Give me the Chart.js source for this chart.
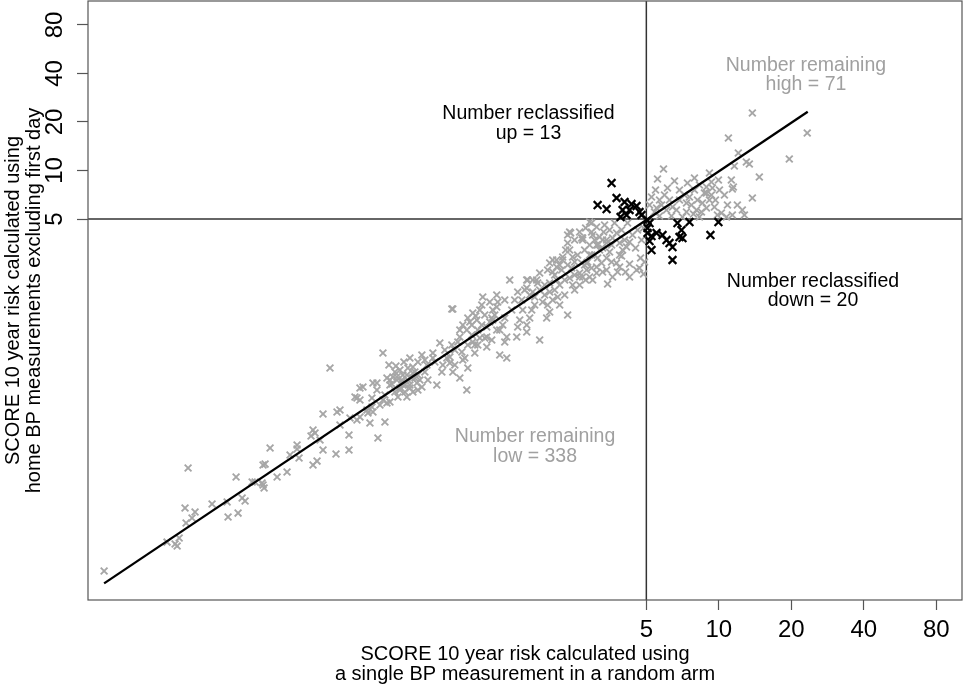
<!DOCTYPE html>
<html>
<head>
<meta charset="utf-8">
<script src="https://cdn.jsdelivr.net/npm/chart.js@4.4.1/dist/chart.umd.min.js"></script>
<style>
  html, body { margin: 0; padding: 0; background: #fff; }
  #wrap { width: 964px; height: 684px; }
</style>
</head>
<body>
<div id="wrap"><canvas id="c" width="964" height="684"></canvas></div>
<script>
// SCORE 10-year risk (%): single random-arm BP reading (x) vs home BP excluding first day (y)

// Both below the 5% threshold (grey)
const lowX = [
  0.0280, 0.0625, 0.0989, 0.0607, 0.0668, 0.0649, 0.0613, 0.0786, 0.0908, 0.0916, 0.1008, 0.1048, 0.1078, 0.1153, 0.1268, 0.1293, 0.0511, 0.0552, 0.0574, 0.0563, 0.1280,
  0.1369, 0.1305, 0.1186, 0.1280, 0.1464, 0.1610, 0.1772, 0.1772, 0.1806, 0.2064, 0.2104, 0.2025, 0.2064, 0.2145, 0.2271, 0.2271, 0.2596, 0.2571, 0.2671, 0.2911, 0.2911, 0.2939, 0.3142, 0.3233, 0.3142, 0.3327, 0.3490, 0.3557, 0.3661, 0.3626, 0.3839, 0.3803, 0.4105, 0.4185, 0.4306, 0.4306, 0.4604, 0.4875, 0.5113, 0.5364, 0.5065, 0.5364, 0.5573, 0.4737, 0.2428, 0.4969, 0.5212, 0.5467, 0.5626, 0.4828, 0.4517,
  0.7783, 1.0168, 1.1187, 1.196, 0.4028, 0.4266, 0.5212, 0.5845, 0.6492, 0.6940, 0.6744, 0.8982, 0.8401, 0.7858, 0.9068, 0.7142, 0.7636, 0.3233, 0.3083, 0.3661, 0.3803, 0.4028, 0.4306, 0.4185, 0.4604, 0.4875, 0.5065, 0.5467, 0.5734, 0.5845, 0.4969, 0.4648, 0.3626, 0.3457, 0.2671, 0.6131, 0.6492, 0.7636, 0.8009, 0.8401, 0.8982, 0.9420, 0.9882, 0.9511, 0.9694, 1.087, 1.087, 1.2308, 1.316, 1.291, 1.151, 0.5364, 0.5626, 0.4737, 0.4431, 0.4517, 0.4828, 0.5113, 0.5313, 0.5626, 0.6014, 0.6189, 0.4737, 0.4389, 0.4105, 0.5212, 0.4922, 0.4560, 0.7279, 0.7783, 0.8242, 0.8563, 0.9068, 0.9420, 0.9976, 1.036, 0.7420, 0.8646,
  0.7858, 0.9068, 0.9511, 0.8646, 0.8401, 1.0464, 1.036, 1.196, 1.2075, 1.291, 1.151, 1.1403, 1.087, 1.2666, 1.316, 1.4477, 1.4615, 1.490, 1.593, 1.639, 1.354, 1.4615, 1.608, 1.593, 1.519, 1.752, 1.803, 1.719, 1.855, 1.984, 1.984, 2.121, 1.928, 1.984, 1.803, 1.593, 2.142, 2.356, 2.518, 2.642, 2.693, 2.401, 2.121, 2.2465, 2.401, 2.356, 2.719, 2.992, 3.108, 2.907, 3.260, 3.419, 3.108, 2.825, 3.419, 1.984, 2.042,
  1.639, 1.719, 1.803, 1.891, 1.769, 1.671, 1.946, 2.042, 2.081, 2.183, 2.290, 2.225, 2.356, 2.518, 2.592, 2.771, 2.907, 3.049, 3.198, 3.291, 2.852, 2.963, 3.138, 2.518, 2.642, 2.798, 2.290, 2.183, 0.9242, 0.9787, 1.0665, 1.1187, 1.1734, 1.2308, 1.0168, 0.9694, 1.1403,
  2.963, 3.108, 2.401, 2.356, 2.693, 3.198, 3.419, 3.761, 3.871, 3.518, 3.291, 2.963, 2.825, 3.108, 3.419, 2.042, 2.121, 2.2465, 1.946, 1.593, 1.687, 2.642, 2.907, 2.471, 3.761, 3.871, 3.984, 4.139, 2.907, 2.424, 2.719, 4.868, 3.871, 4.259, 3.620, 2.992, 2.719, 2.471,
  3.354, 3.518, 3.690, 3.946, 4.178, 4.383, 4.597, 4.775, 4.868, 4.510, 4.730, 4.060, 3.586, 3.323, 3.138, 2.963, 2.798, 2.642, 2.518, 2.312, 3.586, 3.946, 4.259, 4.554, 3.797, 3.291, 4.914, 4.685, 4.099, 3.452,
  0.6014, 0.6617, 0.7074, 0.8009, 0.8812, 0.9976, 1.0665, 1.196, 1.291, 1.380, 1.420, 1.533, 1.563, 1.687, 1.891, 2.081, 2.183, 2.447, 2.771, 3.049, 3.620, 4.259, 0.3233, 0.3914, 0.2207, 0.1657
];
const lowY = [
  0.0327, 0.1424, 0.1252, 0.0804, 0.0759, 0.0697, 0.0649, 0.0851, 0.0876, 0.0707, 0.0748, 0.0928, 0.0889, 0.1166, 0.1150, 0.1070, 0.0494, 0.0481, 0.0524, 0.0467, 0.1486,
  0.1895, 0.1507, 0.1166, 0.1117, 0.1252, 0.1345, 0.1978, 0.1869, 0.1643, 0.2451, 0.2348, 0.2250, 0.1486, 0.1573, 0.1842, 0.3081, 0.3170, 0.1740, 0.2633, 0.2282, 0.1842, 0.2909, 0.2828, 0.2951, 0.3872, 0.4531, 0.3125, 0.2709, 0.3170, 0.3872, 0.2186, 0.4798, 0.2748, 0.3605, 0.4662, 0.5008, 0.5228, 0.5379, 0.5008, 0.4219, 0.3928, 0.5535, 0.4798, 0.4341, 0.5945, 0.4662, 0.4467, 0.5153, 0.4341, 0.4867, 0.4219,
  1.381, 1.3618, 1.527, 1.421, 0.7366, 0.6205, 0.6858, 0.7158, 0.7366, 0.8497, 0.4662, 0.4341, 0.5153, 0.5615, 0.5945, 0.6205, 0.6385, 0.4467, 0.3928, 0.4798, 0.4341, 0.3763, 0.3657, 0.5153, 0.5008, 0.4662, 0.5379, 0.5615, 0.5008, 0.4531, 0.4219, 0.3928, 0.3405, 0.3262, 0.3262, 0.6205, 0.6858, 0.6957, 0.7689, 0.9259, 1.0233, 1.099, 1.1805, 0.8620, 0.7366, 0.9259, 0.8026, 0.7158, 0.6858, 0.8620, 1.1805, 0.6031, 0.6477, 0.5778, 0.5228, 0.5615, 0.5008, 0.5945, 0.5153, 0.5379, 0.5615, 0.5008, 0.4467, 0.4730, 0.4041, 0.4662, 0.6477, 0.6117, 0.7689, 0.8258, 0.8620, 0.7472, 0.8258, 0.9527, 1.0233, 1.099, 0.6858, 0.6665,
  1.381, 1.2146, 1.3046, 1.099, 1.0233, 1.6395, 1.4626, 1.687, 1.527, 1.571, 1.3618, 1.2146, 1.0681, 1.099, 0.9259, 0.9259, 1.0681, 1.1805, 0.9944, 1.2146, 2.091, 1.761, 2.091, 1.865, 1.571, 2.091, 2.311, 1.640, 1.527, 2.003, 1.761, 2.091, 1.2146, 1.3234, 0.887, 1.099, 1.640, 1.2678, 1.812, 2.311, 2.666, 2.151, 2.783, 2.904, 3.21, 3.977, 3.810, 3.977, 3.448, 2.988, 2.666, 2.412, 2.311, 2.412, 3.547, 2.666, 2.344,
  1.687, 1.463, 1.812, 1.687, 2.003, 1.3618, 1.463, 1.571, 1.812, 1.947, 2.091, 2.412, 2.591, 2.705, 2.988, 3.21, 3.448, 2.988, 3.21, 3.703, 2.705, 2.482, 2.863, 2.246, 1.947, 2.091, 1.687, 1.463, 1.147, 1.2499, 1.2678, 1.147, 1.2678, 1.0233, 0.9127, 0.8258, 0.887,
  4.721, 4.459, 4.152, 3.547, 3.810, 3.865, 3.703, 4.093, 3.547, 3.119, 3.303, 2.988, 2.666, 2.518, 2.863, 2.783, 2.518, 2.783, 2.412, 2.091, 2.091, 2.182, 2.182, 2.904, 2.666, 2.988, 3.21, 3.350, 4.789, 4.093, 3.703, 2.278, 2.518, 2.182, 2.182, 2.091, 2.182, 1.947,
  4.588, 4.272, 4.721, 4.272, 4.721, 3.977, 4.272, 3.703, 4.395, 3.303, 2.863, 3.703, 3.448, 4.152, 3.448, 4.152, 4.395, 4.152, 3.703, 3.21, 2.705, 2.946, 2.628, 2.412, 2.344, 2.344, 2.705, 2.482, 2.344, 1.975,
  0.6665, 0.6477, 0.5615, 0.6205, 0.6858, 0.8258, 0.9127, 1.0233, 1.2146, 1.3618, 1.571, 1.3618, 1.812, 1.761, 1.947, 2.246, 2.591, 2.482, 2.591, 3.703, 3.810, 3.599, 0.3763, 0.3503, 0.2125, 0.1715
];

// Both at or above 5% (grey)
const highX = [
  13.78, 23.29, 10.96, 19.62, 12.05, 13.01, 13.39, 11.60, 14.73, 5.892, 5.564, 6.544, 9.141, 9.962, 11.27, 11.49, 11.38, 10.06, 8.884, 9.317,
  8.309, 7.921, 8.715, 9.141, 8.551, 9.588, 8.884, 7.552, 7.339, 6.864, 6.864, 6.421, 6.239, 5.671, 5.254, 5.155, 5.512, 6.063, 6.671, 7.339,
  8.075, 13.78, 12.52, 11.38, 10.76, 10.25, 8.884, 5.407, 5.781, 5.948, 6.121, 7.200, 7.698, 8.152, 8.469, 9.317, 9.680, 10.55, 10.86, 11.94,
  12.77, 7.409, 7.921, 9.407, 9.867, 5.671, 6.359, 7.064, 8.309, 7.847, 5.459
];
const highY = [
  22.74, 17.09, 15.91, 11.78, 12.84, 11.29, 10.97, 10.66, 9.111, 10.22, 8.855, 8.605, 9.647, 8.729, 8.729, 7.898, 7.676, 7.567, 7.898, 8.483,
  8.127, 7.567, 7.249, 6.559, 6.284, 5.935, 5.850, 6.847, 6.284, 7.567, 6.559, 5.935, 6.559, 6.559, 6.847, 6.106, 5.850, 5.686, 5.686, 5.526,
  5.686, 6.749, 5.686, 5.294, 5.145, 5.447, 7.249, 5.526, 6.106, 7.045, 7.785, 7.045, 6.106, 6.559, 5.526, 7.045, 6.559, 7.045, 6.106, 6.106,
  5.294, 8.362, 8.981, 7.785, 5.294, 5.219, 5.219, 5.145, 5.145, 5.370, 7.567
];

// Reclassified upwards by home BP (black)
const upX = [3.586, 3.138, 3.419, 3.761, 4.060, 4.341, 4.554, 3.984, 4.259, 3.908, 4.139, 4.685, 4.775];
const upY = [8.362, 6.106, 5.767, 6.749, 6.374, 6.194, 6.020, 5.686, 5.686, 5.145, 5.294, 5.526, 5.294];

// Reclassified downwards by home BP (black)
const downX = [5.057, 5.155, 5.057, 5.057, 5.254, 5.155, 5.254, 5.512, 5.836, 6.063, 6.239, 6.421, 6.421, 6.734, 6.997, 6.864, 7.064, 7.552, 9.229, 9.962];
const downY = [4.928, 4.721, 4.395, 4.093, 3.921, 3.650, 3.21, 4.093, 3.977, 3.703, 3.547, 3.350, 2.783, 4.721, 4.272, 3.865, 3.810, 4.789, 3.977, 4.789];

// Fitted line end points
const fitX = [0.0280, 23.40];
const fitY = [0.0274, 23.17];

// Axes
const tickValues = [5, 10, 20, 40, 80];
const cutoff = 5;
const xRange = [0.024, 102.3];
const yRange = [0.0216, 112.7];

const FONT = '"Liberation Sans", Arial, Helvetica, sans-serif';
const GREY = '#a6a6a6';

const pts = (xs, ys) => xs.map((x, i) => ({ x: x, y: ys[i] }));

// Quadrant captions placed in data space
const notes = [
  { x: 1.62, y: 19.6, color: '#000', lines: ['Number reclassified', 'up = ' + upX.length] },
  { x: 23.0, y: 39.2, color: '#a0a0a0', lines: ['Number remaining', 'high = ' + highX.length] },
  { x: 24.6, y: 1.787, color: '#000', lines: ['Number reclassified', 'down = ' + downX.length] },
  { x: 1.725, y: 0.1936, color: '#a0a0a0', lines: ['Number remaining', 'low = ' + lowX.length] }
];

const notesPlugin = {
  id: 'notes',
  afterDatasetsDraw(chart) {
    const { ctx, scales } = chart;
    ctx.save();
    ctx.font = '19.5px ' + FONT;
    ctx.textAlign = 'center';
    ctx.textBaseline = 'middle';
    const gap = 19.5;
    notes.forEach(n => {
      const px = scales.x.getPixelForValue(n.x);
      const py = scales.y.getPixelForValue(n.y);
      ctx.fillStyle = n.color;
      n.lines.forEach((t, i) => {
        ctx.fillText(t, px, py + (i - (n.lines.length - 1) / 2) * gap);
      });
    });
    ctx.restore();
  }
};

const framePlugin = {
  id: 'frame',
  afterDraw(chart) {
    const { ctx, chartArea: a } = chart;
    ctx.save();
    ctx.strokeStyle = '#555';
    ctx.lineWidth = 1.2;
    ctx.strokeRect(a.left, a.top, a.right - a.left, a.bottom - a.top);
    ctx.restore();
  }
};

const fixTicks = s => { s.ticks = tickValues.map(v => ({ value: v })); };

new Chart(document.getElementById('c'), {
  type: 'scatter',
  data: {
    datasets: [
      {
        label: 'reclassified up',
        data: pts(upX, upY),
        pointStyle: 'crossRot', pointRadius: 5.5, pointBorderWidth: 2.2,
        borderColor: '#000', backgroundColor: '#000', order: 0
      },
      {
        label: 'reclassified down',
        data: pts(downX, downY),
        pointStyle: 'crossRot', pointRadius: 5.5, pointBorderWidth: 2.2,
        borderColor: '#000', backgroundColor: '#000', order: 0
      },
      {
        label: 'fit',
        data: pts(fitX, fitY),
        showLine: true, pointRadius: 0, borderColor: '#000', borderWidth: 2.3, order: 1
      },
      {
        label: 'remaining high',
        data: pts(highX, highY),
        pointStyle: 'crossRot', pointRadius: 4.8, pointBorderWidth: 1.9,
        borderColor: GREY, backgroundColor: GREY, order: 2
      },
      {
        label: 'remaining low',
        data: pts(lowX, lowY),
        pointStyle: 'crossRot', pointRadius: 4.8, pointBorderWidth: 1.9,
        borderColor: GREY, backgroundColor: GREY, order: 2
      },
      {
        label: 'x threshold',
        data: pts([cutoff, cutoff], yRange),
        showLine: true, pointRadius: 0, borderColor: '#333', borderWidth: 1.5, order: 3
      },
      {
        label: 'y threshold',
        data: pts(xRange, [cutoff, cutoff]),
        showLine: true, pointRadius: 0, borderColor: '#333', borderWidth: 1.5, order: 3
      }
    ]
  },
  options: {
    responsive: false,
    animation: false,
    events: [],
    layout: { autoPadding: false, padding: { top: 1, right: 2, left: 0, bottom: 0 } },
    plugins: { legend: { display: false }, tooltip: { enabled: false } },
    scales: {
      x: {
        type: 'logarithmic',
        min: xRange[0], max: xRange[1],
        afterBuildTicks: fixTicks,
        afterFit: s => { s.height = 84; s.paddingLeft = 0; s.paddingRight = 0; },
        grid: { drawOnChartArea: false, drawTicks: true, tickLength: 10, tickColor: '#555', tickWidth: 1.2 },
        border: { display: false },
        ticks: {
          autoSkip: false, maxRotation: 0, minRotation: 0, padding: 6,
          color: '#000', font: { family: FONT, size: 24, lineHeight: 1.2 },
          callback: v => String(v)
        },
        title: {
          display: true,
          text: ['SCORE 10 year risk calculated using', 'a single BP measurement in a random arm'],
          color: '#000', font: { family: FONT, size: 20, lineHeight: 1.0 },
          padding: { top: 0, bottom: 0 }
        }
      },
      y: {
        type: 'logarithmic',
        min: yRange[0], max: yRange[1],
        afterBuildTicks: fixTicks,
        afterFit: s => { s.width = 88; s.paddingTop = 0; s.paddingBottom = 0; },
        grid: { drawOnChartArea: false, drawTicks: true, tickLength: 11, tickColor: '#555', tickWidth: 1.2 },
        border: { display: false },
        ticks: {
          autoSkip: false, minRotation: 90, maxRotation: 90, crossAlign: 'center', padding: 8,
          color: '#000', font: { family: FONT, size: 24, lineHeight: 1.2 },
          callback: v => String(v)
        },
        title: {
          display: true,
          text: ['SCORE 10 year risk calculated using', 'home BP measurements excluding first day'],
          color: '#000', font: { family: FONT, size: 20, lineHeight: 1.05 },
          padding: { top: 3, bottom: 0 }
        }
      }
    }
  },
  plugins: [notesPlugin, framePlugin]
});
</script>
</body>
</html>
